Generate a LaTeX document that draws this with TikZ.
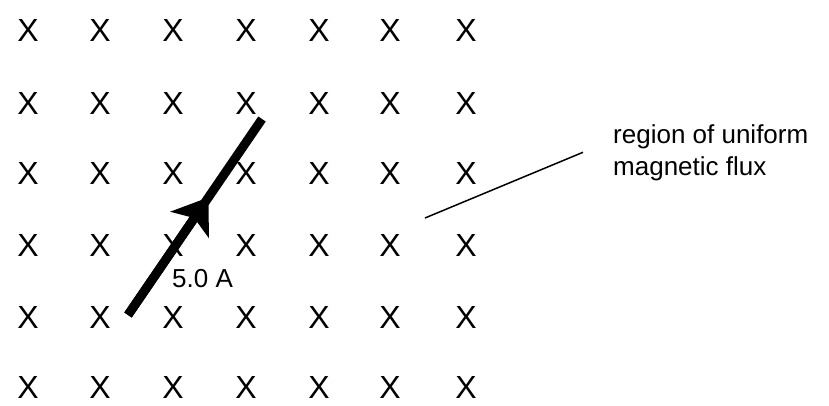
\documentclass[tikz,border=0pt]{standalone}
\usepackage{fontspec}
\setmainfont{Liberation Sans}
\usepackage{tikz}
\usetikzlibrary{arrows.meta,positioning,calc}

\begin{document}
\begin{tikzpicture}[
    x=1pt, y=-1pt,
    cross/.style={inner sep=0pt, font=\fontsize{32}{38}\selectfont},
    wire/.style={line width=9pt, line cap=butt},
    leader/.style={line width=1.5pt},
    tag/.style={inner sep=0pt, align=left, font=\fontsize{26}{32}\selectfont}
]
\useasboundingbox (0,0) rectangle (829,405);

% Field crosses
\foreach \c [count=\i] in {28,100,173,246,319,390,466} {
    \foreach \r [count=\j] in {30,103,173,245,317,387} {
        \node[cross] (x\i\j) at (\c,\r) {X};
    }
}

% Wire
\coordinate (lo) at (128,315);
\coordinate (hi) at (262,119);
\coordinate (tip) at ($(lo)!0.6!(hi)$);
\draw[wire] (lo) -- (hi);
\draw[wire, -{Stealth[length=33pt,width=46pt,inset=8pt]}] (lo) -- (tip);

% Labels
\node[tag, anchor=base west] (current) at (172,287) {5.0 A};
\node[tag, anchor=base west] (flux) at (613,175) {region of uniform\\magnetic flux};

\coordinate (free) at (425,218);
\draw[leader] (free) -- ([xshift=-30pt]flux.west);

\end{tikzpicture}
\end{document}
